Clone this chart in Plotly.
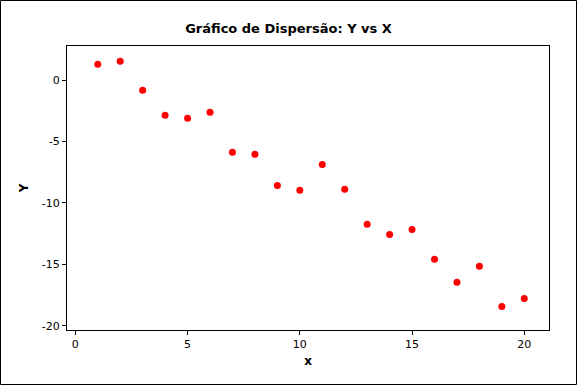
import plotly.graph_objects as go

x_vals = [1, 2, 3, 4, 5, 6, 7, 8, 9, 10, 11, 12, 13, 14, 15, 16, 17, 18, 19, 20]
y_vals = [1.28, 1.52, -0.84, -2.87, -3.12, -2.63, -5.88, -6.05, -8.58, -8.98,
          -6.87, -8.90, -11.75, -12.57, -12.16, -14.60, -16.47, -15.17, -18.43, -17.78]
x_ticks = [0, 5, 10, 15, 20]
y_ticks = [0, -5, -10, -15, -20]
y_tick_labels = ["0", "-5", "-10", "-15", "-20"]

W, H = 577, 385
L, R, T, B = 67, 28, 46, 55
pw, ph = W - L - R, H - T - B

fig = go.Figure(go.Scatter(
    x=x_vals, y=y_vals, mode="markers",
    marker=dict(color="#ff0000", size=7, line=dict(width=0)),
))

axis_common = dict(
    showgrid=False, zeroline=False, showline=True, linecolor="black", linewidth=1,
    mirror=True, ticks="outside", ticklen=4, tickcolor="black", tickwidth=1,
    tickfont=dict(family="DejaVu Sans", size=11, color="black"),
)

fig.update_layout(
    width=W, height=H,
    margin=dict(l=L, r=R, t=T, b=B),
    paper_bgcolor="white", plot_bgcolor="white",
    showlegend=False,
    title=dict(text="<b>Gráfico de Dispersão: Y vs X</b>", x=0.5, xanchor="center",
               y=1 - 28 / H, yanchor="middle",
               font=dict(family="DejaVu Sans", size=13, color="black")),
    xaxis=dict(range=[-0.37, 21.1], tickvals=x_ticks,
               title=dict(text="<b>x</b>", font=dict(family="DejaVu Sans", size=12, color="black"), standoff=6),
               **axis_common),
    yaxis=dict(range=[-20.35, 2.77], tickvals=y_ticks, ticktext=y_tick_labels,
               title=dict(text="<b>Y</b>", font=dict(family="DejaVu Sans", size=12, color="black"), standoff=10),
               **axis_common),
    shapes=[dict(type="rect", xref="paper", yref="paper",
                 x0=(-L + 0.5) / pw, x1=1 + (R - 0.5) / pw,
                 y0=(-B + 0.5) / ph, y1=1 + (T - 0.5) / ph,
                 line=dict(color="black", width=1), fillcolor="rgba(0,0,0,0)", layer="below")],
)

fig.write_html("out.html", config={"displayModeBar": False},
               post_script="document.body.style.margin='0';document.body.style.overflow='hidden';")
